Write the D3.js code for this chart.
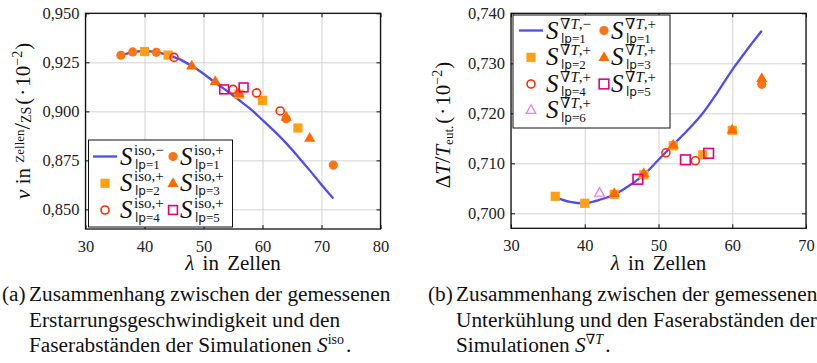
<!DOCTYPE html>
<html>
<head>
<meta charset="utf-8">
<script src="https://cdn.jsdelivr.net/npm/d3@7"></script>
<style>
  body { margin: 0; background: #fff; }
  svg { display: block; }
</style>
</head>
<body>
<div id="chart"></div>
<script>
// ---- data (a): v over lambda, S^iso ----
const isoLineLam = [36, 38, 40, 42, 44, 46, 48, 50, 52, 54, 56, 58, 60, 62, 64, 66, 68, 70, 72];
const isoLineV = [0.9285, 0.9302, 0.9307, 0.9302, 0.9287, 0.9265, 0.9232, 0.9192, 0.9146, 0.9104,
                  0.9058, 0.9011, 0.8956, 0.8899, 0.8838, 0.8770, 0.8699, 0.8626, 0.8556];
const isoLam1 = [36, 38, 42, 64, 72];
const isoV1 = [0.9286, 0.9303, 0.9301, 0.8962, 0.8726];
const isoLam2 = [40, 44, 56, 60, 66];
const isoV2 = [0.9305, 0.9287, 0.9088, 0.9056, 0.8915];
const isoLam3 = [48, 52, 56, 64, 68];
const isoV3 = [0.9233, 0.9154, 0.9092, 0.8972, 0.8864];
const isoLam4 = [45, 55, 59, 63];
const isoV4 = [0.9275, 0.9112, 0.9094, 0.9002];
const isoLam5 = [53.5, 56.8];
const isoV5 = [0.9112, 0.9122];
const isoXTicks = [30, 40, 50, 60, 70, 80];
const isoYTicks = [0.850, 0.875, 0.900, 0.925, 0.950];

// ---- data (b): dT/T_eut over lambda, S^gradT ----
const gradLineLam = [36, 38, 40, 42, 44, 46, 48, 50, 52, 54, 56, 58, 60, 62, 64];
const gradLineT = [0.7032, 0.7023, 0.7020, 0.7027, 0.7037, 0.7055, 0.7077, 0.7107, 0.7137, 0.7167,
                   0.7200, 0.7242, 0.7287, 0.7327, 0.7365];
const gradLam1 = [64];
const gradT1 = [0.7258];
const gradLam2 = [36, 40, 44, 48, 52, 56, 60];
const gradT2 = [0.7034, 0.7020, 0.7038, 0.7077, 0.7135, 0.7117, 0.7166];
const gradLam3 = [44, 48, 52, 60, 64];
const gradT3 = [0.7040, 0.7080, 0.7137, 0.7167, 0.7270];
const gradLam4 = [51, 55];
const gradT4 = [0.7121, 0.7105];
const gradLam5 = [47.2, 53.65, 56.8];
const gradT5 = [0.7068, 0.7107, 0.7120];
const gradLam6 = [42];
const gradT6 = [0.7041];
const gradXTicks = [30, 40, 50, 60, 70];
const gradYTicks = [0.700, 0.710, 0.720, 0.730, 0.740];

const colors = {
    line: "#4d4df5", lp1: "#fa7418", lp2: "#ffa014", lp3: "#ff6a00",
    lp4: "#ff2a00", lp5: "#e6007e", lp6: "#f07cf0"
};
const serif = "'Liberation Serif', 'DejaVu Serif', serif";
const sans = "'DejaVu Sans', 'Liberation Sans', sans-serif";
const fmt = d => d3.format(".3f")(d).replace(".", ",");

const svg = d3.select("#chart").append("svg")
    .attr("width", 817).attr("height", 363);

// text with mixed fonts, shifted sub/superscripts
function rich(parent, x, y, parts, anchor) {
    const t = parent.append("text").attr("x", x).attr("y", y)
        .attr("font-family", serif).attr("fill", "#111")
        .attr("text-anchor", anchor || "start");
    let prev = 0;
    parts.forEach(p => {
        const up = p.up || 0;
        const s = t.append("tspan").text(p.t)
            .attr("font-size", p.fs || 20)
            .attr("dy", prev - up);
        if (p.it) s.attr("font-style", "italic");
        if (p.ff) s.attr("font-family", p.ff);
        if (p.dx) s.attr("dx", p.dx);
        prev = up;
    });
    return t;
}

function marker(g, shape, color, x, y, big) {
    const k = big ? 1.1 : 1;
    if (shape === "circle") {
        g.append("circle").attr("cx", x).attr("cy", y).attr("r", 4.6).attr("fill", color);
    } else if (shape === "square") {
        g.append("rect").attr("x", x - 4.6).attr("y", y - 4.6).attr("width", 9.2).attr("height", 9.2).attr("fill", color);
    } else if (shape === "triangle") {
        g.append("path").attr("d", `M${x},${y - 6}L${x + 5.6},${y + 3.8}L${x - 5.6},${y + 3.8}Z`).attr("fill", color);
    } else if (shape === "ocircle") {
        g.append("circle").attr("cx", x).attr("cy", y).attr("r", 4).attr("fill", "none")
            .attr("stroke", color).attr("stroke-width", 1.6);
    } else if (shape === "osquare") {
        const h = 4.4 * k;
        g.append("rect").attr("x", x - h).attr("y", y - h).attr("width", 2 * h).attr("height", 2 * h)
            .attr("fill", "none").attr("stroke", color).attr("stroke-width", 1.6);
    } else if (shape === "otriangle") {
        g.append("path").attr("d", `M${x},${y - 5.2}L${x + 4.8},${y + 3.4}L${x - 4.8},${y + 3.4}Z`)
            .attr("fill", "none").attr("stroke", color).attr("stroke-width", 1.3);
    }
}

function frame(x, y, xt, yt, x0, x1, y0, y1) {
    const g = svg.append("g");
    // grid
    g.append("g").attr("transform", `translate(0,${y1})`)
        .call(d3.axisBottom(x).tickValues(xt).tickSize(-(y1 - y0)).tickFormat(""))
        .call(a => a.select(".domain").remove())
        .call(a => a.selectAll("line").attr("stroke", "#d2d2d2").attr("stroke-width", 1));
    g.append("g").attr("transform", `translate(${x0},0)`)
        .call(d3.axisLeft(y).tickValues(yt).tickSize(-(x1 - x0)).tickFormat(""))
        .call(a => a.select(".domain").remove())
        .call(a => a.selectAll("line").attr("stroke", "#d2d2d2").attr("stroke-width", 1));
    return g;
}

function axesOnTop(x, y, xt, yt, x0, x1, y0, y1) {
    const g = svg.append("g");
    const style = a => {
        a.select(".domain").remove();
        a.selectAll("line").attr("stroke", "#111").attr("stroke-width", 1);
        a.selectAll("text").attr("font-family", serif).attr("font-size", 16.5).attr("fill", "#222");
    };
    g.append("g").attr("transform", `translate(0,${y1})`)
        .call(d3.axisBottom(x).tickValues(xt).tickSize(-4).tickSizeOuter(0).tickPadding(11).tickFormat(d3.format("d")))
        .call(style);
    g.append("g").attr("transform", `translate(0,${y0})`)
        .call(d3.axisTop(x).tickValues(xt).tickSize(-4).tickSizeOuter(0).tickFormat(""))
        .call(style);
    g.append("g").attr("transform", `translate(${x0},0)`)
        .call(d3.axisLeft(y).tickValues(yt).tickSize(-4).tickSizeOuter(0).tickPadding(6).tickFormat(fmt))
        .call(style);
    g.append("g").attr("transform", `translate(${x1},0)`)
        .call(d3.axisRight(y).tickValues(yt).tickSize(-4).tickSizeOuter(0).tickFormat(""))
        .call(style);
    g.append("rect").attr("x", x0).attr("y", y0).attr("width", x1 - x0).attr("height", y1 - y0)
        .attr("fill", "none").attr("stroke", "#111").attr("stroke-width", 1.3);
}

function series(g, x, y, lams, vals, shape, color, big) {
    lams.forEach((l, i) => marker(g, shape, color, x(l), y(vals[i]), big));
}

// S with stacked superscript / subscript, my = marker centre of the row
function legendLabel(g, xs, my, sup, sub) {
    rich(g, xs, my + 8, [{ t: "S", it: true, fs: 25 }]);
    rich(g, xs + 14, my - 2, sup);
    rich(g, xs + 15, my + 12, [{ t: "lp", fs: 12, ff: sans }, { t: "=" + sub, fs: 13 }]);
}

// ================= plot (a) =================
{
    const x0 = 85.5, x1 = 380.5, y0 = 13.3, y1 = 229;
    const x = d3.scaleLinear().domain([30, 80]).range([x0, x1]);
    const y = d3.scaleLinear().domain([0.84, 0.95]).range([y1, y0]);
    frame(x, y, isoXTicks, isoYTicks, x0, x1, y0, y1);
    const g = svg.append("g");
    g.append("path")
        .attr("d", d3.line().curve(d3.curveMonotoneX).x((d, i) => x(isoLineLam[i])).y(d => y(d))(isoLineV))
        .attr("fill", "none").attr("stroke", colors.line).attr("stroke-width", 2.3);
    series(g, x, y, isoLam1, isoV1, "circle", colors.lp1);
    series(g, x, y, isoLam2, isoV2, "square", colors.lp2);
    series(g, x, y, isoLam3, isoV3, "triangle", colors.lp3);
    series(g, x, y, isoLam4, isoV4, "ocircle", colors.lp4);
    series(g, x, y, isoLam5, isoV5, "osquare", colors.lp5);
    axesOnTop(x, y, isoXTicks, isoYTicks, x0, x1, y0, y1);

    // legend
    const lg = svg.append("g");
    lg.append("rect").attr("x", 88.5).attr("y", 140).attr("width", 144).attr("height", 87)
        .attr("fill", "#fff").attr("stroke", "#111").attr("stroke-width", 1);
    const sup = s => [{ t: "iso,", fs: 15 }, { t: s, fs: 15 }];
    const rows = [156.5, 183.3, 210];
    lg.append("line").attr("x1", 93).attr("x2", 117).attr("y1", rows[0]).attr("y2", rows[0])
        .attr("stroke", colors.line).attr("stroke-width", 2.3);
    legendLabel(lg, 120, rows[0], sup("−"), "1");
    marker(lg, "circle", colors.lp1, 173, rows[0]);
    legendLabel(lg, 180, rows[0], sup("+"), "1");
    marker(lg, "square", colors.lp2, 105, rows[1]);
    legendLabel(lg, 120, rows[1], sup("+"), "2");
    marker(lg, "triangle", colors.lp3, 173, rows[1]);
    legendLabel(lg, 180, rows[1], sup("+"), "3");
    marker(lg, "ocircle", colors.lp4, 105, rows[2]);
    legendLabel(lg, 120, rows[2], sup("+"), "4");
    marker(lg, "osquare", colors.lp5, 173, rows[2]);
    legendLabel(lg, 180, rows[2], sup("+"), "5");

    // axis titles
    rich(svg, (x0 + x1) / 2, 270, [{ t: "λ", it: true, fs: 21 }, { t: " in Zellen", fs: 21 }], "middle")
        .attr("word-spacing", 3);
    const yl = rich(svg, 0, 0, [
        { t: "v", it: true, fs: 22 },
        { t: " in ", fs: 21 },
        { t: "Zellen", fs: 13, up: 6 },
        { t: "/", fs: 23, up: 0 },
        { t: "ZS", fs: 14, up: -1 },
        { t: "(", fs: 21, up: 0, dx: 2 },
        { t: "·", fs: 21, dx: 2 },
        { t: "10", fs: 21, dx: 2 },
        { t: "−2", fs: 14, up: 8 },
        { t: ")", fs: 21, up: 0, dx: 1 }
    ], "middle");
    yl.attr("transform", "translate(30,121) rotate(-90)");
}

// ================= plot (b) =================
{
    const x0 = 511, x1 = 806, y0 = 13.3, y1 = 228.3;
    const x = d3.scaleLinear().domain([30, 70]).range([x0, x1]);
    const y = d3.scaleLinear().domain([0.697, 0.740]).range([y1, y0]);
    frame(x, y, gradXTicks, gradYTicks, x0, x1, y0, y1);
    const g = svg.append("g");
    g.append("path")
        .attr("d", d3.line().curve(d3.curveMonotoneX).x((d, i) => x(gradLineLam[i])).y(d => y(d))(gradLineT))
        .attr("fill", "none").attr("stroke", colors.line).attr("stroke-width", 2.3);
    series(g, x, y, gradLam1, gradT1, "circle", colors.lp1);
    series(g, x, y, gradLam2, gradT2, "square", colors.lp2);
    series(g, x, y, gradLam3, gradT3, "triangle", colors.lp3);
    series(g, x, y, gradLam4, gradT4, "ocircle", colors.lp4);
    series(g, x, y, gradLam5, gradT5, "osquare", colors.lp5, true);
    series(g, x, y, gradLam6, gradT6, "otriangle", colors.lp6);
    axesOnTop(x, y, gradXTicks, gradYTicks, x0, x1, y0, y1);

    const lg = svg.append("g");
    lg.append("rect").attr("x", 513).attr("y", 15).attr("width", 157).attr("height", 113)
        .attr("fill", "#fff").attr("stroke", "#111").attr("stroke-width", 1);
    const sup = s => [{ t: "∇", fs: 15 }, { t: "T", it: true, fs: 15 }, { t: "," + s, fs: 15 }];
    const rows = [30.5, 57.3, 84, 110];
    lg.append("line").attr("x1", 519).attr("x2", 543).attr("y1", rows[0]).attr("y2", rows[0])
        .attr("stroke", colors.line).attr("stroke-width", 2.3);
    legendLabel(lg, 546, rows[0], sup("−"), "1");
    marker(lg, "circle", colors.lp1, 604, rows[0]);
    legendLabel(lg, 611, rows[0], sup("+"), "1");
    marker(lg, "square", colors.lp2, 531, rows[1]);
    legendLabel(lg, 546, rows[1], sup("+"), "2");
    marker(lg, "triangle", colors.lp3, 604, rows[1]);
    legendLabel(lg, 611, rows[1], sup("+"), "3");
    marker(lg, "ocircle", colors.lp4, 531, rows[2]);
    legendLabel(lg, 546, rows[2], sup("+"), "4");
    marker(lg, "osquare", colors.lp5, 604, rows[2], true);
    legendLabel(lg, 611, rows[2], sup("+"), "5");
    marker(lg, "otriangle", colors.lp6, 531, rows[3]);
    legendLabel(lg, 546, rows[3], sup("+"), "6");

    rich(svg, (x0 + x1) / 2, 270, [{ t: "λ", it: true, fs: 21 }, { t: " in Zellen", fs: 21 }], "middle")
        .attr("word-spacing", 3);
    const yl = rich(svg, 0, 0, [
        { t: "Δ", fs: 21 },
        { t: "T", it: true, fs: 21 },
        { t: "/", fs: 23 },
        { t: "T", it: true, fs: 21 },
        { t: "eut.", fs: 13, up: -3 },
        { t: "(", fs: 21, up: 0, dx: 2 },
        { t: "·", fs: 21, dx: 2 },
        { t: "10", fs: 21, dx: 2 },
        { t: "−2", fs: 14, up: 8 },
        { t: ")", fs: 21, up: 0, dx: 1 }
    ], "middle");
    yl.attr("transform", "translate(450,125) rotate(-90)");
}

// ================= captions =================
{
    const cap = svg.append("g").attr("font-family", serif).attr("fill", "#111");
    const fs = 21.3;
    const line = (x, y, parts) => rich(cap, x, y, parts.map(p => Object.assign({ fs: fs }, p)));
    line(2, 301, [{ t: "(a)" }]);
    line(29, 301, [{ t: "Zusammenhang zwischen der gemessenen" }]);
    line(29, 327, [{ t: "Erstarrungsgeschwindigkeit und den" }]);
    line(29, 352, [{ t: "Faserabständen der Simulationen " }, { t: "S", it: true },
                   { t: "iso", fs: 14, up: 8 }, { t: ".", up: 0, dx: 2 }]);
    line(428, 301, [{ t: "(b)" }]);
    line(456, 301, [{ t: "Zusammenhang zwischen der gemessenen" }]);
    line(456, 327, [{ t: "Unterkühlung und den Faserabständen der" }]);
    line(456, 352, [{ t: "Simulationen " }, { t: "S", it: true },
                    { t: "∇", fs: 14, up: 8 }, { t: "T", it: true, fs: 14, up: 8 }, { t: ".", up: 0, dx: 2 }]);
}
</script>
</body>
</html>
